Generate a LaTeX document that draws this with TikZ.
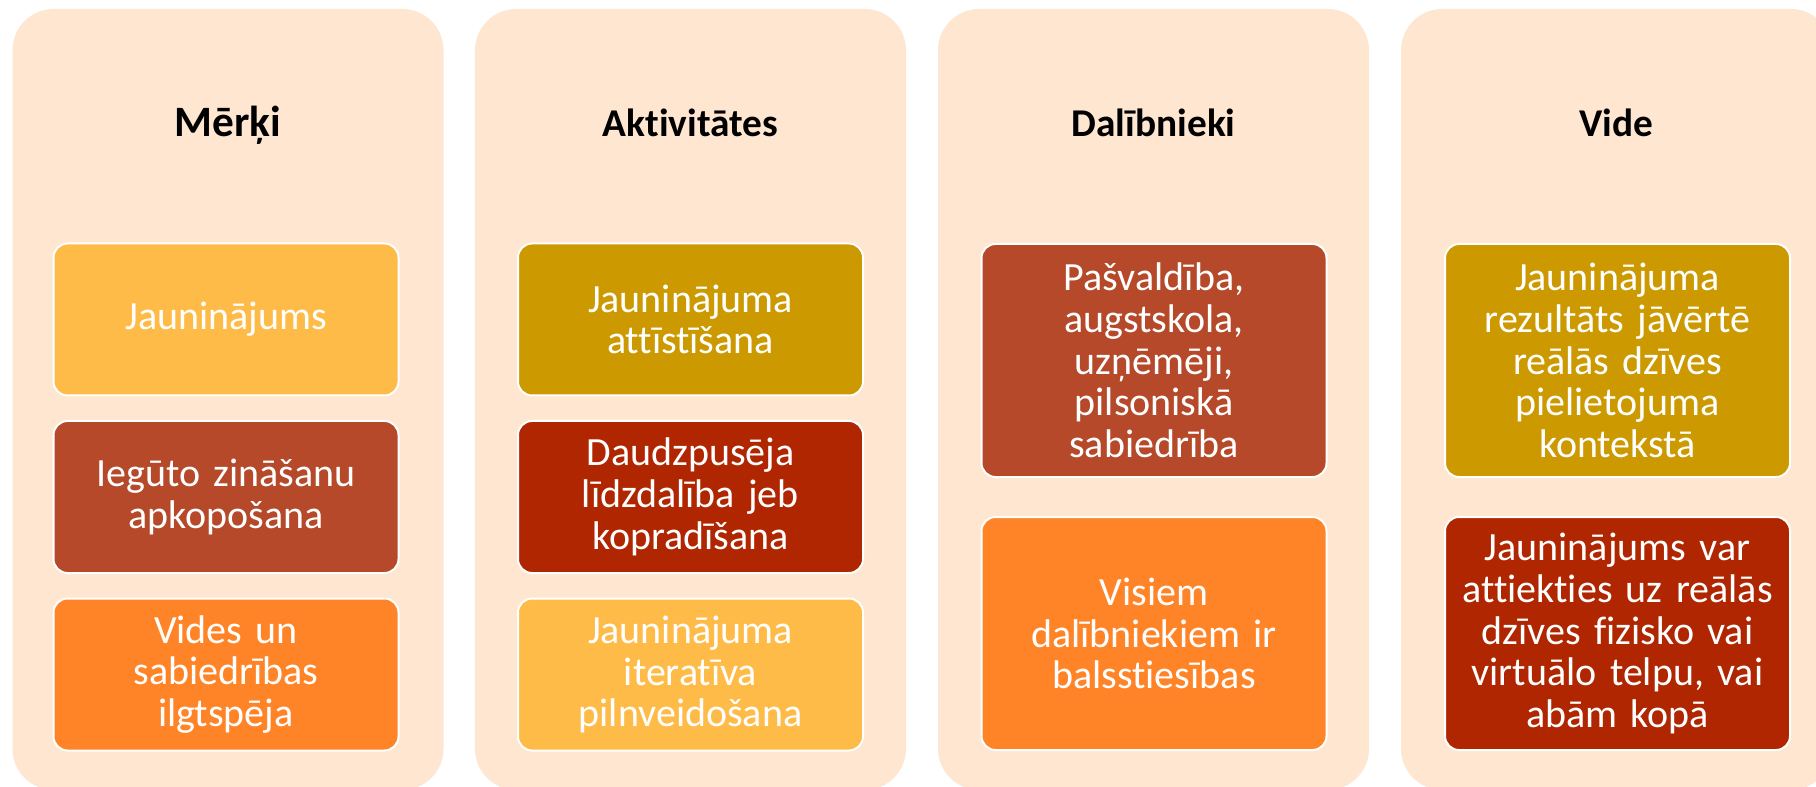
\documentclass[tikz,border=0pt]{standalone}
\usepackage{fontspec}
\setmainfont[Ligatures=NoCommon]{Carlito}
\definecolor{panelbg}{HTML}{FEE6D0}
\definecolor{cgold}{HTML}{FFBB47}
\definecolor{crust}{HTML}{B5492A}
\definecolor{corange}{HTML}{FF8427}
\definecolor{cmustard}{HTML}{CC9A00}
\definecolor{cdarkred}{HTML}{B02600}
\tikzset{
  panelbox/.style={fill=panelbg, rounded corners=31pt},
  ttl/.style={anchor=base, font=\bfseries\fontsize{29.5pt}{34pt}\selectfont, text=black, inner sep=0pt},
  cbox/.style={draw=white, line width=1.5pt, rounded corners=10.5pt, text=white,
    minimum width=258.75pt, text width=250pt, align=center, inner sep=0pt,
    font=\fontsize{30pt}{31.25pt}\selectfont},
  short/.style={minimum height=114pt},
  tall/.style={minimum height=174.75pt}
}
\begin{document}
\begin{tikzpicture}[x=0.75pt,y=-0.75pt]
\clip (0,0) rectangle (1816,787);
\fill[white] (0,0) rectangle (1816,787);
% panels
\fill[panelbox] (12.5,9) rectangle (443.5,790);
\fill[panelbox] (475,9) rectangle (906,790);
\fill[panelbox] (938,9) rectangle (1369,790);
\fill[panelbox] (1401,9) rectangle (1832,790);
% titles
\node[ttl, font=\bfseries\fontsize{32.5pt}{36pt}\selectfont] (t1) at (228,137) {Mērķi};
\node[ttl] (t2) at (690.5,137) {Aktivitātes};
\node[ttl] (t3) at (1153.5,137) {Dalībnieki};
\node[ttl] (t4) at (1616.5,137) {Vide};
% column 1
\node[cbox, short, fill=cgold] (a1) at (226,319.5) {Jauninājums};
\node[cbox, short, fill=crust] (a2) at (226,497) {Iegūto zināšanu\\apkopošana};
\node[cbox, short, fill=corange] (a3) at (226,674.5) {Vides un\\sabiedrības\\ilgtspēja};
% column 2
\node[cbox, short, fill=cmustard] (b1) at (690.5,319.5) {Jauninājuma\\attīstīšana};
\node[cbox, short, fill=cdarkred] (b2) at (690.5,497) {Daudzpusēja\\līdzdalība jeb\\kopradīšana};
\node[cbox, short, fill=cgold] (b3) at (690.5,674.5) {Jauninājuma\\iteratīva\\pilnveidošana};
% column 3
\node[cbox, tall, fill=crust] (c1) at (1154,360.5) {Pašvaldība,\\augstskola,\\uzņēmēji,\\pilsoniskā\\sabiedrība};
\node[cbox, tall, fill=corange] (c2) at (1154,633.5) {Visiem\\dalībniekiem ir\\balsstiesības};
% column 4
\node[cbox, tall, fill=cmustard] (d1) at (1617.5,360.5) {Jauninājuma\\rezultāts jāvērtē\\reālās dzīves\\pielietojuma\\kontekstā};
\node[cbox, tall, fill=cdarkred] (d2) at (1617.5,633.5) {Jauninājums var\\attiekties uz reālās\\dzīves fizisko vai\\virtuālo telpu, vai\\abām kopā};
\end{tikzpicture}
\end{document}
